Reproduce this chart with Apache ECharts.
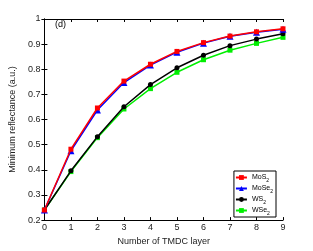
<!DOCTYPE html>
<html><head><meta charset="utf-8">
<script src="https://cdn.jsdelivr.net/npm/echarts@6/dist/echarts.min.js"></script>
<style>html,body{margin:0;padding:0;background:#fff}#c{width:313px;height:251px}</style>
</head><body><div id="c"></div>
<script>
var layers = [0,1,2,3,4,5,6,7,8,9];
var mos2  = [0.24,0.482,0.646,0.753,0.82,0.871,0.906,0.932,0.949,0.961];
var mose2 = [0.24,0.476,0.638,0.747,0.817,0.868,0.904,0.931,0.947,0.959];
var ws2   = [0.24,0.396,0.532,0.651,0.739,0.806,0.856,0.894,0.920,0.941];
var wse2  = [0.24,0.393,0.528,0.642,0.723,0.788,0.838,0.876,0.903,0.927];
var names = ['MoS2','MoSe2','WS2','WSe2'];
var colors = ['#ff0000','#0000ff','#000000','#00ee00'];
var symbols = ['rect','triangle','circle','rect'];
var values = [mos2,mose2,ws2,wse2];
var font = 'Liberation Sans, Arial, sans-serif';
var chart = echarts.init(document.getElementById('c'));
var series = names.map(function(n,i){
  return {name:n,type:'line',data:layers.map(function(x,j){return [x,values[i][j]];}),
    symbol:symbols[i],symbolSize:i===1?7:5,showSymbol:true,
    itemStyle:{color:colors[i]},lineStyle:{color:colors[i],width:1.5},z:10-i,animation:false};
});
var axisCommon = {axisLine:{lineStyle:{color:'#000',width:1}},axisTick:{inside:true,length:3,lineStyle:{color:'#000'}},splitLine:{show:false}};
chart.setOption({
  animation:false,
  grid:{left:41,right:30,top:19,bottom:28},
  xAxis:[Object.assign({type:'value',min:0,max:9,interval:1,position:'bottom',
    name:'Number of TMDC layer',nameLocation:'middle',nameGap:15,
    nameTextStyle:{fontFamily:font,fontSize:9,color:'#222'},
    axisLabel:{fontFamily:font,fontSize:9,color:'#222',margin:3}},axisCommon),
    Object.assign({type:'value',min:0,max:9,interval:1,position:'top',axisLabel:{show:false}},axisCommon)],
  yAxis:[Object.assign({type:'value',min:0.2,max:1,interval:0.1,position:'left',
    name:'Minimum reflectance (a.u.)',nameLocation:'middle',nameGap:22,
    nameTextStyle:{fontFamily:font,fontSize:9,color:'#222'},
    axisLabel:{fontFamily:font,fontSize:9,color:'#222',margin:4,formatter:function(v){return v===1?'1':v.toFixed(1);}}},axisCommon),
    Object.assign({type:'value',min:0.2,max:1,interval:0.1,position:'right',axisLabel:{show:false}},axisCommon)],
  legend:{orient:'vertical',right:37,bottom:34,itemWidth:11,itemHeight:6,itemGap:0,
    backgroundColor:'#fff',borderColor:'#000',borderWidth:1,padding:[1,3,1,1],
    data:names,
    textStyle:{fontFamily:font,fontSize:7,color:'#000',lineHeight:11,rich:{a:{fontFamily:font,fontSize:7,color:'#000',lineHeight:11},s:{fontFamily:font,fontSize:5,color:'#000',lineHeight:11,verticalAlign:'bottom',padding:[5,0,0,0]}}},
    formatter:function(n){return '{a|'+n.slice(0,-1)+'}{s|'+n.slice(-1)+'}';}},
  graphic:[{type:'text',left:55,top:20,style:{text:'(d)',font:'9px '+font,fill:'#000'}}],
  series:series
});
</script></body></html>
